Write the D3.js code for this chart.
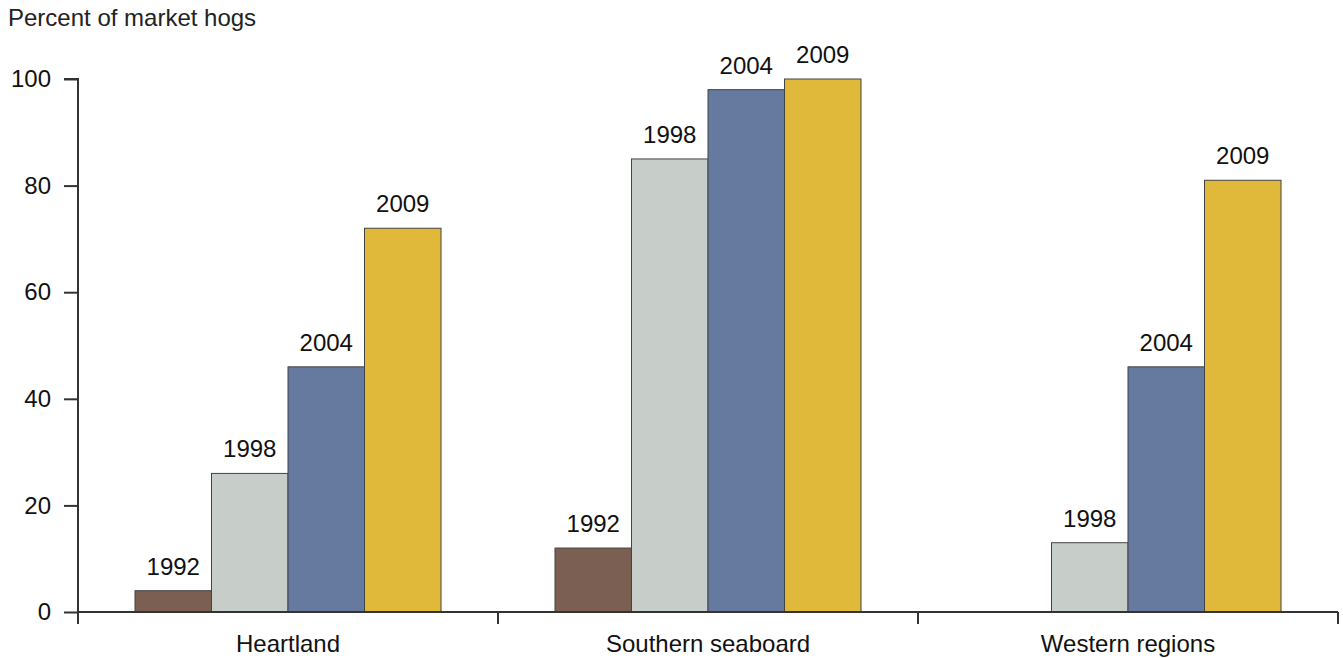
<!DOCTYPE html>
<html><head><meta charset="utf-8">
<script src="https://cdn.jsdelivr.net/npm/d3@7"></script>
<style>
body{margin:0;background:#fff;}
svg{display:block;font-family:"Liberation Sans",Arial,Helvetica,sans-serif;}
</style></head>
<body>
<svg id="chart" width="1343" height="658"></svg>
<script>
const regions = ["Heartland", "Southern seaboard", "Western regions"];
const years = ["1992", "1998", "2004", "2009"];
const values1992 = [4, 12, null];
const values1998 = [26, 85, 13];
const values2004 = [46, 98, 46];
const values2009 = [72, 100, 81];
const yTicks = [0, 20, 40, 60, 80, 100];
const colors = ["#7b5f53", "#c7cdc9", "#66799f", "#e0b93b"];
const yTitle = "Percent of market hogs";

const series = [values1992, values1998, values2004, values2009];
const svg = d3.select("#chart");
const mLeft = 78, mRight = 1338, mTop = 79, mBottom = 612;

const x0 = d3.scaleBand().domain(regions).range([mLeft, mRight]).paddingInner(0).paddingOuter(0);
const x1 = d3.scaleBand().domain(years).range([0, x0.bandwidth()]).paddingOuter(0.745).paddingInner(0);
const y = d3.scaleLinear().domain([0, 100]).range([mBottom, mTop]);

const fs = 24;
svg.append("text").attr("x", 8).attr("y", 26).attr("font-size", fs).attr("fill", "#222").text(yTitle);

// bars
regions.forEach((r, ri) => {
  years.forEach((yr, yi) => {
    const v = series[yi][ri];
    if (v == null) return;
    const bx = x0(r) + x1(yr);
    svg.append("rect")
      .attr("x", bx).attr("y", y(v))
      .attr("width", x1.bandwidth()).attr("height", y(0) - y(v))
      .attr("fill", colors[yi]).attr("stroke", "#444").attr("stroke-width", 1);
    svg.append("text")
      .attr("x", bx + x1.bandwidth() / 2).attr("y", y(v) - 16)
      .attr("text-anchor", "middle").attr("font-size", fs).attr("fill", "#111").text(yr);
  });
});

// y axis
const yAxis = svg.append("g").attr("transform", `translate(${mLeft},0)`)
  .call(d3.axisLeft(y).tickValues(yTicks).tickSize(14).tickPadding(13).tickFormat(d3.format("d")));
yAxis.selectAll("text").attr("font-size", fs).attr("fill", "#111").attr("font-family", "Liberation Sans, Arial, sans-serif");
yAxis.selectAll("line").attr("stroke", "#333").attr("stroke-width", 2);
yAxis.select(".domain").attr("stroke", "#333").attr("stroke-width", 2).attr("d", `M-14,${mTop}H0V${mBottom + 12}`);

// x axis
const xAxis = svg.append("g").attr("transform", `translate(0,${mBottom})`);
xAxis.append("line").attr("x1", mLeft).attr("x2", mRight).attr("y1", 0).attr("y2", 0)
  .attr("stroke", "#333").attr("stroke-width", 2);
const bounds = regions.map(r => x0(r)).concat([mRight]);
xAxis.selectAll("line.tick").data(bounds).enter().append("line").attr("class", "tick")
  .attr("x1", d => d).attr("x2", d => d).attr("y1", 0).attr("y2", 12)
  .attr("stroke", "#333").attr("stroke-width", 2);
xAxis.selectAll("text").data(regions).enter().append("text")
  .attr("x", d => x0(d) + x0.bandwidth() / 2).attr("y", 40)
  .attr("text-anchor", "middle").attr("font-size", fs).attr("fill", "#111").text(d => d);
</script>
</body></html>
